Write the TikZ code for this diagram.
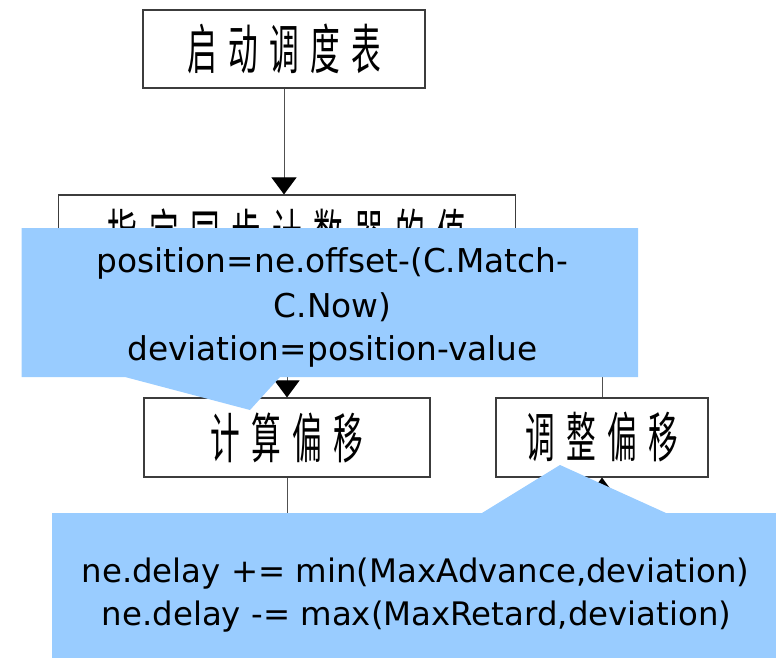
\documentclass[tikz,border=0pt]{standalone}
\usepackage{fontspec}
\setmainfont{DejaVu Sans}
\newfontfamily\cjkfont[FakeStretch=0.55,LetterSpace=21]{Noto Sans CJK SC}
\newfontfamily\notefont{DejaVu Sans}
\usetikzlibrary{arrows.meta}
\definecolor{notefill}{RGB}{153,204,255}
\definecolor{framecol}{RGB}{60,60,60}
\definecolor{linecol}{RGB}{80,80,80}

\begin{document}
\begin{tikzpicture}[x=1pt,y=-1pt,
  stepbox/.style={draw=framecol, line width=1.1pt, fill=white, inner sep=0pt,
    font=\cjkfont\fontsize{54}{54}\selectfont},
  flow/.style={draw=linecol, line width=1pt},
  tip/.style={-{Triangle[width=25pt,length=17pt,color=black]}},
  note/.style={fill=notefill},
  notetext/.style={font=\notefont\fontsize{32.8}{40}\selectfont, anchor=base, inner sep=0pt},
  lownotetext/.style={notetext, font=\notefont\fontsize{32.4}{40}\selectfont}]

\useasboundingbox (0,0) rectangle (776,658);

% process steps
\node[stepbox, minimum width=282pt, minimum height=78pt] (start) at (284,49)
  {\raisebox{2.5pt}{启动调度表}};
\node[stepbox, minimum width=457pt, minimum height=78pt] (setc) at (287,234)
  {\raisebox{3pt}{指定同步计数器的值}};
\node[stepbox, minimum width=286pt, minimum height=79pt] (calc) at (287,437.5)
  {\raisebox{3pt}{计算偏移}};
\node[stepbox, minimum width=212pt, minimum height=79pt] (adj) at (602,437.5)
  {\raisebox{3pt}{调整偏移}};

% connectors
\coordinate (loopdown) at (287,560);
\coordinate (loopup) at (602,250);
\draw[flow, tip] (start.south) -- (start.south |- setc.north);
\draw[flow, tip] (setc.south) -- (calc.north);
\draw[flow, tip] (calc.south) -- (loopdown) -| (adj.south);
\draw[flow, tip] (adj.north) -- (loopup) -- (loopup -| setc.east);

% callout notes
\fill[note] (21.5,228) -- (638,228) -- (638,377) -- (280,377) -- (250,410)
  -- (125,377) -- (21.5,377) -- cycle;
\fill[note] (52,513) -- (482,513) -- (560,465) -- (666,513) -- (776,513)
  -- (776,658) -- (52,658) -- cycle;

\node[notetext] (pa) at (332.5,272.5) {position=ne.offset-(C.Match-};
\node[notetext] (pb) at (332.5,317) {C.Now)};
\node[notetext] (pc) at (332.5,360.5) {deviation=position-value};

\node[lownotetext] (da) at (415.5,582) {ne.delay += min(MaxAdvance,deviation)};
\node[lownotetext] (db) at (416.5,625) {ne.delay -= max(MaxRetard,deviation)};
\end{tikzpicture}
\end{document}
